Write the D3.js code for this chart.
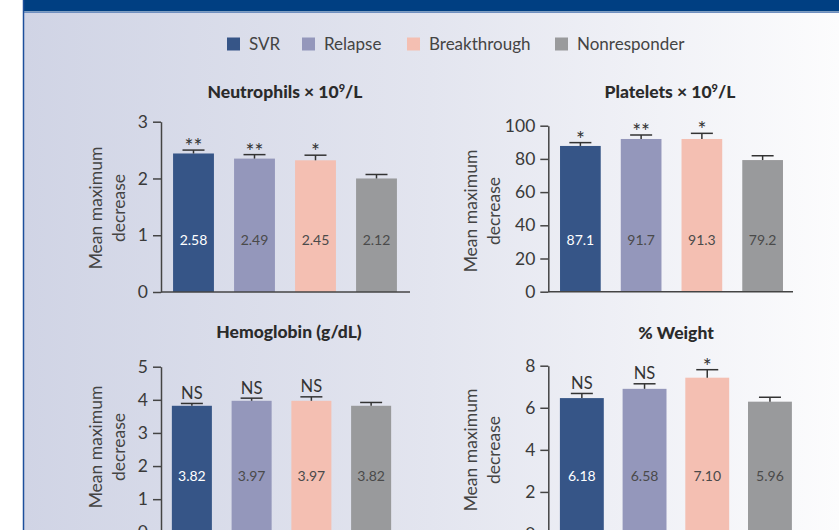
<!DOCTYPE html>
<html>
<head>
<meta charset="utf-8">
<script src="https://cdn.jsdelivr.net/npm/d3@7"></script>
<style>
  body { margin: 0; background: #fff; }
  svg { display: block; font-family: Lato, "Open Sans", sans-serif; }
</style>
</head>
<body>
<svg id="chart" width="839" height="530"></svg>
<script>
// groups + colours
const groups = ["SVR", "Relapse", "Breakthrough", "Nonresponder"];
const groupColors = ["#365587", "#9497bb", "#f4bfb2", "#999a9c"];

// bar heights as drawn, top of error bars, printed labels, significance marks
const neutroBars = [2.44, 2.35, 2.32, 2.00];
const neutroErr = [2.50, 2.42, 2.41, 2.07];
const neutroLabels = ["2.58", "2.49", "2.45", "2.12"];
const neutroSig = ["**", "**", "*", ""];
const neutroTicks = [0, 1, 2, 3];

const plateletBars = [87.8, 92.0, 92.0, 79.3];
const plateletErr = [89.8, 94.4, 95.4, 81.9];
const plateletLabels = ["87.1", "91.7", "91.3", "79.2"];
const plateletSig = ["*", "**", "*", ""];
const plateletTicks = [0, 20, 40, 60, 80, 100];

const hgbBars = [3.82, 3.97, 3.97, 3.82];
const hgbErr = [3.89, 4.05, 4.09, 3.92];
const hgbLabels = ["3.82", "3.97", "3.97", "3.82"];
const hgbSig = ["NS", "NS", "NS", ""];
const hgbTicks = [0, 1, 2, 3, 4, 5];

const weightBars = [6.46, 6.90, 7.43, 6.29];
const weightErr = [6.68, 7.14, 7.81, 6.50];
const weightLabels = ["6.18", "6.58", "7.10", "5.96"];
const weightSig = ["NS", "NS", "*", ""];
const weightTicks = [0, 2, 4, 6, 8];

const width = 839, height = 530;
const svg = d3.select("#chart");

// background gradient
const defs = svg.append("defs");
const grad = defs.append("linearGradient").attr("id", "bg")
    .attr("x1", "0%").attr("x2", "100%").attr("y1", "0%").attr("y2", "0%");
grad.append("stop").attr("offset", "0%").attr("stop-color", "#d0d4e5");
grad.append("stop").attr("offset", "50%").attr("stop-color", "#e3e5ef");
grad.append("stop").attr("offset", "100%").attr("stop-color", "#fcfcfd");

svg.append("rect").attr("x", 24).attr("y", 12).attr("width", width - 24).attr("height", height - 12)
    .attr("fill", "url(#bg)");
svg.append("rect").attr("x", 23).attr("y", 0).attr("width", width - 23).attr("height", 11.5)
    .attr("fill", "#003f82");
svg.append("line").attr("x1", 23).attr("x2", width).attr("y1", 12.5).attr("y2", 12.5)
    .attr("stroke", "#6f8fc0").attr("stroke-width", 1);
svg.append("line").attr("x1", 23.5).attr("x2", 23.5).attr("y1", 0).attr("y2", height)
    .attr("stroke", "#1d4f9c").attr("stroke-width", 1.5);

// legend
const legendX = [227, 302, 407, 555];
const legend = svg.append("g");
groups.forEach((g, i) => {
    legend.append("rect").attr("x", legendX[i]).attr("y", 37.5)
        .attr("width", 13).attr("height", 13).attr("fill", groupColors[i]);
    legend.append("text").attr("x", legendX[i] + 22).attr("y", 49.5)
        .attr("font-size", 17).attr("fill", "#444").text(g);
});

// panel layout
const panels = [
    {title: "Neutrophils \u00d7 10", sup: "9", unit: "/L", titleX: 285, titleY: 98,
     bars: neutroBars, err: neutroErr, labels: neutroLabels, sig: neutroSig, ticks: neutroTicks,
     axisX: 161, y0: 292, yTop: 121.7, xr: [163, 407], pad: 0.33, xEnd: 410, labelY: 240, ylabX: 96, ylabY: 208},
    {title: "Platelets \u00d7 10", sup: "9", unit: "/L", titleX: 670, titleY: 98,
     bars: plateletBars, err: plateletErr, labels: plateletLabels, sig: plateletSig, ticks: plateletTicks,
     axisX: 548.3, y0: 291.7, yTop: 125.7, xr: [550, 793], pad: 0.33, xEnd: 793, labelY: 240, ylabX: 471, ylabY: 211},
    {title: "Hemoglobin (g/dL)", titleX: 289, titleY: 338,
     bars: hgbBars, err: hgbErr, labels: hgbLabels, sig: hgbSig, ticks: hgbTicks,
     axisX: 161, y0: 532.3, yTop: 366.7, xr: [162, 401], pad: 0.33, xEnd: 410, labelY: 476, ylabX: 96, ylabY: 447},
    {title: "% Weight", titleX: 676, titleY: 339,
     bars: weightBars, err: weightErr, labels: weightLabels, sig: weightSig, ticks: weightTicks,
     axisX: 548.3, y0: 534, yTop: 365.7, xr: [550.5, 801.3], pad: 0.3, xEnd: 805, labelY: 476, ylabX: 471, ylabY: 450}
];

panels.forEach(p => {
    const g = svg.append("g");
    const y = d3.scaleLinear().domain([0, d3.max(p.ticks)]).range([p.y0, p.yTop]);
    const x = d3.scaleBand().domain(groups).range(p.xr)
        .paddingInner(p.pad).paddingOuter(p.pad / 2);

    // title
    const t = g.append("text").attr("x", p.titleX).attr("y", p.titleY)
        .attr("text-anchor", "middle").attr("font-weight", "900")
        .attr("font-size", 17.5).attr("fill", "#2b2b2b").text(p.title);
    if (p.sup) {
        t.append("tspan").attr("dy", -6).attr("font-size", 11).text(p.sup);
        t.append("tspan").attr("dy", 6).text(p.unit);
    }

    // y label
    const yl = g.append("text")
        .attr("transform", `translate(${p.ylabX},${p.ylabY}) rotate(-90)`)
        .attr("text-anchor", "middle").attr("font-size", 17.5).attr("fill", "#444");
    yl.append("tspan").attr("x", 0).attr("dy", 6).text("Mean maximum");
    yl.append("tspan").attr("x", 0).attr("dy", 23).text("decrease");

    // bars
    g.selectAll("rect.bar").data(groups).join("rect").attr("class", "bar")
        .attr("x", d => x(d)).attr("width", x.bandwidth())
        .attr("y", (d, i) => y(p.bars[i]))
        .attr("height", (d, i) => y(0) - y(p.bars[i]))
        .attr("fill", (d, i) => groupColors[i]);

    // error bars
    const eb = g.append("g").attr("stroke", "#333").attr("stroke-width", 1.5);
    groups.forEach((d, i) => {
        const cx = x(d) + x.bandwidth() / 2;
        eb.append("line").attr("x1", cx).attr("x2", cx)
            .attr("y1", y(p.bars[i])).attr("y2", y(p.err[i]));
        eb.append("line").attr("x1", cx - 11).attr("x2", cx + 11)
            .attr("y1", y(p.err[i])).attr("y2", y(p.err[i]));
    });

    // significance marks
    g.selectAll("text.sig").data(groups).join("text").attr("class", "sig")
        .attr("x", d => x(d) + x.bandwidth() / 2)
        .attr("y", (d, i) => y(p.err[i]) + (p.sig[i] === "NS" ? -4.5 : 4))
        .attr("text-anchor", "middle")
        .attr("font-size", (d, i) => p.sig[i] === "NS" ? 16.5 : 21)
        .attr("fill", "#333")
        .text((d, i) => p.sig[i]);

    // value labels
    g.selectAll("text.val").data(groups).join("text").attr("class", "val")
        .attr("x", d => x(d) + x.bandwidth() / 2)
        .attr("y", p.labelY + 5)
        .attr("text-anchor", "middle").attr("font-size", 14)
        .attr("fill", (d, i) => i === 0 ? "#ffffff" : "#4a4a4a")
        .text((d, i) => p.labels[i]);

    // axes
    const ya = g.append("g").attr("transform", `translate(${p.axisX},0)`)
        .call(d3.axisLeft(y).tickValues(p.ticks).tickFormat(d3.format("d"))
            .tickSize(8).tickSizeOuter(0).tickPadding(5));
    ya.select(".domain").attr("stroke", "#444").attr("stroke-width", 1.5);
    ya.selectAll(".tick line").attr("stroke", "#444").attr("stroke-width", 1.5);
    ya.selectAll(".tick text").attr("font-size", 17.5).attr("fill", "#3a3a3a")
        .attr("font-family", "Lato, sans-serif");

    g.append("line").attr("x1", p.axisX).attr("x2", p.xEnd)
        .attr("y1", p.y0).attr("y2", p.y0)
        .attr("stroke", "#444").attr("stroke-width", 1.5);
});
</script>
</body>
</html>
